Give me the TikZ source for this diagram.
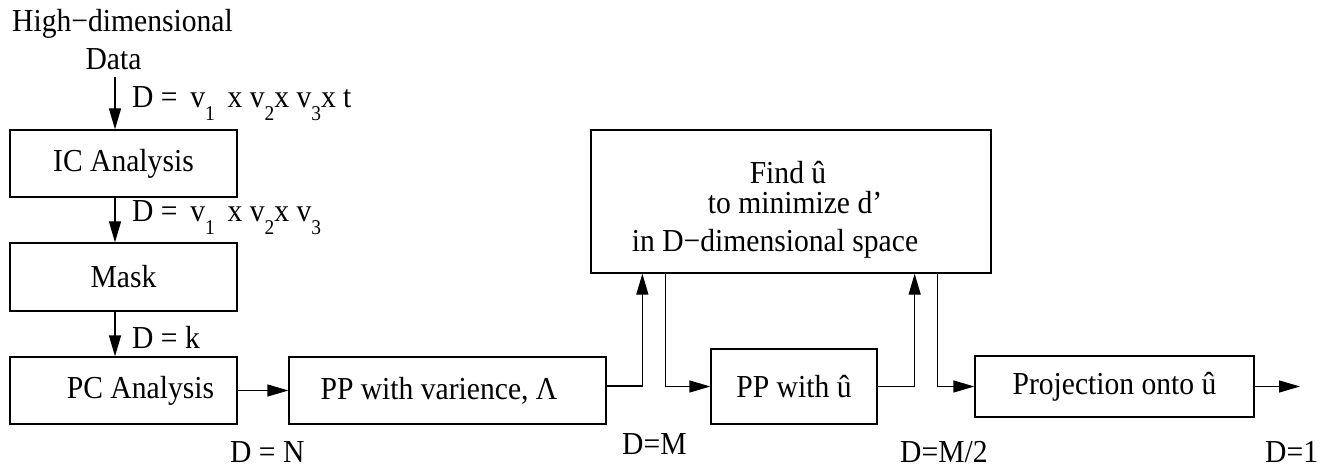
\documentclass[tikz,border=0pt]{standalone}
\usepackage{fontspec}
\setmainfont{Liberation Serif}[FakeStretch=0.925]
\usetikzlibrary{arrows.meta,calc}
\newcommand\fs{\fontsize{32}{36}\selectfont}
\newcommand\lowsub[1]{\raisebox{-13pt}{\fontsize{21}{21}\selectfont #1}}
\tikzset{
  blk/.style={draw, line width=1.3pt, inner sep=0pt, font=\fs},
  flow/.style={line width=1.3pt, -{Triangle[length=21pt,width=12pt]}},
  lbl/.style={inner sep=0pt, anchor=base west, font=\fs},
  txt/.style={inner sep=0pt, anchor=base, font=\fs},
}
\begin{document}
\begin{tikzpicture}[x=1pt,y=-1pt]
\useasboundingbox (0,0) rectangle (1332,470);

% input text
\node[txt] (hi) at (122.5,32) {High−dimensional};
\node[txt] (data) at (113.5,70) {Data};

% left column
\node[blk, minimum width=227, minimum height=67] (ic)   at (123.5,163.5) {IC Analysis};
\node[blk, minimum width=227, minimum height=68] (mask) at (123.5,277)   {Mask};
\node[blk, minimum width=227, minimum height=67] (pc)   at (123.5,390.5) {\hspace*{34pt}PC Analysis};

% bottom row and search box
\node[blk, minimum width=317, minimum height=67] (ppv)  at (447.5,390.5) {PP with varience, Λ\hspace*{17pt}};
\node[blk, minimum width=400, minimum height=143, align=center] (find) at (791,201.5)
  {\rule{0pt}{38pt}Find \^{u}\hspace*{6pt}\\[-6pt]\hspace*{8pt}to minimize d’\\[2pt]in D−dimensional space\hspace*{32pt}};
\node[blk, minimum width=166, minimum height=75] (ppu)  at (794,386.5)   {PP with \^{u}};
\node[blk, minimum width=279, minimum height=61] (proj) at (1114.5,386.5) {Projection onto \^{u}};

% vertical flow
\coordinate (a0) at (115,77);
\draw[flow] (a0) -- (a0 |- ic.north);
\draw[flow] (ic.south -| a0) -- (mask.north -| a0);
\draw[flow] (mask.south -| a0) -- (pc.north -| a0);

% horizontal flow
\draw[flow] (pc.east) -- (ppv.west);
\draw[flow] ([yshift=4.5pt]ppv.east) -| ([xshift=52pt]find.south west);
\draw[flow] ([xshift=75pt]find.south west) |- (ppu.west);
\draw[flow] (ppu.east) -| ([xshift=-77pt]find.south east);
\draw[flow] ([xshift=-54pt]find.south east) |- (proj.west);
\coordinate (out) at (1300,386.5);
\draw[flow] (proj.east) -- (out);

% dimension labels
\node[lbl] (d1) at (132,108) {D = \,v\lowsub{1} \,x v\lowsub{2}x v\lowsub{3}x t};
\node[lbl] (d2) at (132,222) {D = \,v\lowsub{1} \,x v\lowsub{2}x v\lowsub{3}};
\node[lbl] (d3) at (132,348) {D = k};
\node[lbl] (d4) at (230,462) {D = N};
\node[lbl] (d5) at (622,454) {D=M};
\node[lbl] (d6) at (900,462) {D=M/2};
\node[lbl] (d7) at (1265,462) {D=1};
\end{tikzpicture}
\end{document}
